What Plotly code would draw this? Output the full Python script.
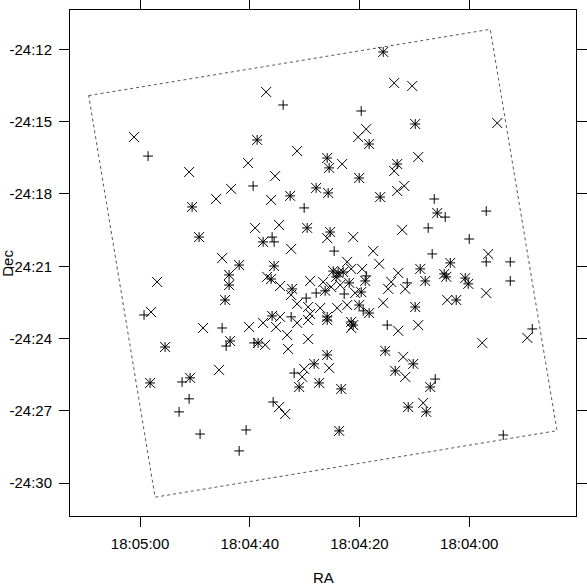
import plotly.graph_objects as go

# RA: seconds past 18:04:00 (time), Dec: arcminutes south of -24:00
cross_ra = [13.68, 10.39, 37.02, -5.11, 61.09, 18.78, 20.24, 31.37, 40.30, 51.06,
            35.38, 23.16, 9.30, 13.68, 43.40, 46.14, 36.11, 13.13, 11.85, 39.03,
            34.65, 25.89, 21.15, 12.22, 32.46, 45.04, 56.90, 36.84, 34.47, 32.46,
            17.51, 22.25, 16.41, 21.52, 19.51, 12.95, 14.22, 14.77, 11.67, -3.47,
            -3.10, 29.00, 26.62, 25.17, 23.52, 20.79, 31.37, 29.36, 27.17, 24.07,
            22.25, 15.68, 4.01, 31.37, 29.36, 29.00, 21.52, 12.95, 9.30, 37.57,
            34.47, 40.12, 48.51, 35.20, 33.19, 29.36, 33.01, 37.20, 57.99, 45.59,
            30.09, 30.45, 25.53, 12.03, 11.67, 8.39, 34.65, 33.55, -2.37, -10.58]
cross_dec = [13.40, 13.52, 13.77, 15.06, 15.64, 15.31, 15.64, 16.22, 16.72, 17.09,
             17.26, 16.76, 16.47, 17.05, 17.79, 18.21, 18.25, 17.88, 17.67, 19.41,
             19.29, 19.83, 19.79, 19.49, 20.28, 20.66, 21.65, 21.44, 21.82, 22.19,
             20.37, 20.82, 20.90, 21.11, 21.11, 21.28, 21.65, 21.94, 21.94, 20.49,
             22.11, 21.61, 21.65, 21.86, 21.78, 22.11, 22.56, 22.69, 22.73, 22.73,
             22.61, 22.52, 22.40, 23.35, 23.23, 22.98, 23.56, 23.68, 23.44, 23.35,
             23.10, 23.52, 23.56, 23.52, 23.85, 24.02, 24.43, 24.26, 22.90, 25.30,
             25.26, 25.59, 25.22, 24.76, 25.59, 26.67, 26.84, 27.13, 24.18, 23.97]

plus_ra = [33.92, 19.69, 58.54, 39.39, 30.09, 6.38, 4.38, -3.10, 35.93, 35.56,
           7.48, 0.00, 24.62, 6.75, -3.10, -7.48, -7.48, 18.78, 11.31, 27.90,
           29.72, 22.79, 32.46, 19.33, 14.95, 59.27, 45.04, 44.31, 39.21, 31.91,
           52.34, 51.06, 52.89, 49.06, 40.67, 41.94, 35.74, 6.20, -11.49, -6.20]
plus_dec = [14.31, 14.56, 16.43, 17.67, 18.58, 18.21, 18.96, 18.71, 19.79, 19.99,
            19.41, 19.87, 20.37, 20.49, 20.82, 20.82, 21.61, 21.40, 21.69, 22.11,
            22.32, 22.15, 23.10, 22.85, 23.44, 23.02, 23.56, 24.31, 24.18, 25.43,
            25.80, 26.50, 27.04, 27.96, 27.79, 28.66, 26.63, 25.68, 23.60, 28.00]

star_ra = [15.68, 9.85, 38.66, 18.24, 25.89, 25.53, 13.13, 20.06, 32.64, 27.90,
           25.71, 16.23, 50.51, 5.83, 49.24, 37.57, 29.54, 25.35, 41.94, 35.56,
           43.77, 36.11, 43.77, 32.28, 44.50, 24.80, 23.89, 24.25, 22.98, 21.88,
           18.96, 26.26, 19.69, 8.93, 8.02, 3.46, 4.56, 4.19, 0.73, 0.18,
           2.37, 20.06, 18.24, 9.85, 35.93, 25.89, 25.89, 21.52, 21.15, 43.58,
           38.48, 55.44, 28.27, 25.89, 31.00, 27.35, 23.34, 15.32, 10.21, 13.49,
           7.11, 11.12, 7.84, 23.71, 58.17, 50.88]
star_dec = [12.11, 15.10, 15.76, 15.93, 16.51, 16.92, 16.76, 17.34, 18.08, 17.75,
            17.96, 18.13, 18.54, 18.79, 19.79, 19.99, 19.41, 19.58, 20.95, 20.99,
            21.36, 21.53, 21.78, 21.94, 22.40, 21.20, 21.28, 21.44, 21.24, 21.69,
            21.61, 22.02, 22.07, 21.11, 21.61, 20.86, 21.32, 21.44, 21.49, 21.73,
            22.40, 22.61, 22.94, 22.69, 23.06, 23.10, 23.23, 23.31, 23.44, 24.10,
            24.18, 24.35, 25.05, 24.68, 26.01, 25.84, 26.09, 24.51, 25.05, 25.34,
            26.01, 26.84, 27.04, 27.83, 25.84, 25.63]

# field outline corners (closed)
field_ra = [69.36, -3.83, -15.99, 57.26, 69.36]
field_dec = [13.92, 11.17, 27.82, 30.58, 13.92]

ra_ticks = [60, 40, 20, 0]
ra_labels = ["18:05:00", "18:04:40", "18:04:20", "18:04:00"]
dec_ticks = [12, 15, 18, 21, 24, 27, 30]
dec_labels = ["-24:%02d" % d for d in dec_ticks]

ra_range = [72.77, -19.46]
dec_range = [-31.36, -10.37]

neg = lambda v: [-d for d in v]

x_mark = dict(symbol="x-thin", size=10, color="black", line=dict(color="black", width=1))
p_mark = dict(symbol="cross-thin", size=7, color="black", line=dict(color="black", width=1))

fig = go.Figure()
fig.add_trace(go.Scatter(x=field_ra, y=neg(field_dec), mode="lines",
                         line=dict(color="#555555", width=1, dash="dot"),
                         hoverinfo="skip"))
fig.add_trace(go.Scatter(x=cross_ra, y=neg(cross_dec), mode="markers", marker=x_mark))
fig.add_trace(go.Scatter(x=plus_ra, y=neg(plus_dec), mode="markers", marker=p_mark))
# asterisk = x and + drawn on top of each other
fig.add_trace(go.Scatter(x=star_ra, y=neg(star_dec), mode="markers", marker=x_mark))
fig.add_trace(go.Scatter(x=star_ra, y=neg(star_dec), mode="markers", marker=p_mark))

axis_common = dict(showgrid=False, zeroline=False, showline=True, linecolor="black",
                   linewidth=1, mirror="ticks", ticks="outside", ticklen=10,
                   tickcolor="black", automargin=False,
                   tickfont=dict(size=15, color="black"))

fig.update_layout(
    template="none",
    width=587, height=585, autosize=False,
    margin=dict(l=70, r=11, t=10, b=69),
    paper_bgcolor="white", plot_bgcolor="white",
    font=dict(family="Liberation Sans, Arial, sans-serif", color="black"),
    showlegend=False,
    xaxis=dict(range=ra_range, tickvals=ra_ticks, ticktext=ra_labels,
               ticklabelstandoff=4, **axis_common),
    yaxis=dict(range=dec_range, tickvals=neg(dec_ticks), ticktext=dec_labels,
               ticklabelstandoff=4, **axis_common),
    annotations=[
        dict(text="RA", x=0.5, y=-0.1225, xref="paper", yref="paper", yanchor="middle",
             showarrow=False, font=dict(size=15)),
        dict(text="Dec", x=-0.125, y=0.5, xref="paper", yref="paper", textangle=-90,
             xanchor="center", yanchor="middle", showarrow=False, font=dict(size=15)),
    ],
)

fig.write_html("out.html", config={"displayModeBar": False},
               post_script="document.body.style.margin='0';")
